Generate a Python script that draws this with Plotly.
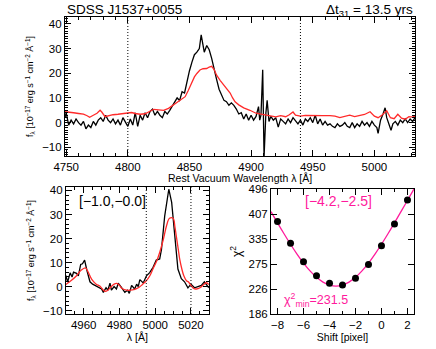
import plotly.graph_objects as go

# top panel: full H-beta region (rest wavelength, flux)
lam_black = [4749, 4750, 4752, 4754, 4756, 4758, 4760, 4762, 4764, 4766, 4768, 4770, 4772, 4774,
             4776, 4778, 4780, 4782, 4784, 4786, 4788, 4790, 4792, 4794, 4796, 4798, 4800, 4802,
             4804, 4806, 4808, 4810, 4812, 4814, 4816, 4818, 4820, 4822, 4824, 4826, 4828, 4830,
             4832, 4834, 4836, 4838, 4840, 4842, 4844, 4846, 4848, 4850, 4852, 4854, 4856, 4858,
             4859.5, 4861, 4862, 4864, 4866, 4868, 4870, 4872, 4874, 4876, 4878, 4880, 4882, 4884,
             4886, 4888, 4890, 4892, 4894, 4896, 4898, 4900, 4902, 4904, 4906, 4907, 4908, 4909.4,
             4910.5, 4912, 4913, 4914.5, 4916, 4918, 4920, 4922, 4924, 4926, 4928, 4930, 4932, 4934,
             4936, 4938, 4940, 4942, 4944, 4946, 4948, 4950, 4952, 4954, 4956, 4958, 4960, 4962,
             4964, 4966, 4968, 4970, 4972, 4974, 4976, 4978, 4980, 4982, 4984, 4986, 4988, 4990,
             4992, 4994, 4996, 4998, 5000, 5002, 5003, 5005, 5007, 5008.7, 5010, 5012, 5013.5, 5015,
             5017, 5019, 5021, 5023, 5025, 5027, 5029, 5031, 5033]
flux_black = [2.0, 4.0, -1.0, 1.0, -0.5, 1.5, 0.0, -1.0, 0.5, -2.5, -1.0, -2.0, 0.5, -1.0,
              1.0, 2.0, 0.5, 3.0, 1.0, 0.0, 1.5, -0.5, 1.0, -1.0, 2.0, 0.0, -1.5, 1.5,
              -1.0, 4.0, -1.5, 3.0, 1.0, 4.0, 2.0, 4.5, 5.5, 3.0, 4.5, 3.0, 2.0, 4.5,
              3.5, 5.0, 6.5, 8.5, 10.0, 9.0, 12.5, 12.0, 17.0, 21.0, 24.5, 27.5, 28.5, 30.0,
              35.5, 30.0, 28.5, 31.2, 29.5, 26.0, 21.0, 17.5, 13.5, 11.5, 9.0, 8.5, 7.0, 8.0,
              7.0, 5.5, 3.5, 4.0, 1.5, 3.5, 1.0, 3.0, 1.0, 2.5, 6.5, 1.0, 3.0, 21.4,
              -14.0, 4.0, 9.0, 0.5, 2.5, 1.0, 2.0, -1.8, 1.5, 0.5, -0.5, 1.5, 0.0, 2.0,
              0.5, -0.5, 1.0, -1.0, 1.5, 0.5, 2.0, 0.0, 3.0, -0.5, 1.5, -1.0, 0.5, -1.0,
              -0.5, -1.5, -2.0, -0.5, -1.5, -1.0, 0.0, -1.5, -2.0, 0.0, -2.0, -0.5, -1.5, 0.5,
              -1.0, 0.0, -1.5, 0.5, -1.0, -2.0, -4.3, 1.0, 3.5, 6.0, 2.0, -1.0, -3.1, -0.5,
              0.5, -1.0, 1.0, 0.0, 1.5, 0.0, 1.5, 0.5, 2.0]

lam_red = [4749, 4752, 4756, 4760, 4764, 4767, 4769, 4772, 4775, 4777.5, 4779, 4781.5, 4784, 4788,
           4792, 4796, 4800, 4803, 4806, 4810, 4814, 4818, 4821, 4825, 4829, 4833, 4837, 4841,
           4844, 4846.5, 4849, 4852, 4854, 4856, 4858.5, 4861, 4864, 4866, 4868, 4870, 4872, 4875,
           4877.5, 4880, 4883, 4885, 4887, 4890, 4894, 4899, 4904, 4908, 4912, 4916, 4920, 4924,
           4928, 4931, 4934, 4936, 4940, 4944, 4948, 4952, 4958, 4964, 4968, 4972, 4976, 4980,
           4984, 4988, 4992, 4996.5, 5000, 5003, 5006, 5010, 5013, 5016, 5019, 5022, 5025, 5028,
           5031, 5033]
flux_red = [4.4, 4.3, 4.0, 3.7, 3.4, 2.8, 2.2, 3.0, 3.8, 5.0, 4.2, 2.4, 2.8, 3.2,
            3.4, 3.6, 3.9, 4.1, 3.7, 3.4, 3.6, 4.6, 5.4, 5.2, 5.0, 5.8, 7.2, 8.3,
            9.5, 10.5, 13.0, 16.6, 18.5, 19.9, 21.3, 21.8, 21.9, 22.5, 22.8, 21.5, 19.2, 17.0,
            15.5, 13.7, 12.0, 10.0, 8.4, 7.2, 6.0, 5.0, 3.8, 3.4, 3.0, 2.8, 2.3, 2.8,
            2.4, 3.2, 4.3, 3.0, 2.6, 2.9, 2.8, 3.0, 2.8, 2.8, 2.6, 2.0, 2.6, 3.0,
            2.4, 2.8, 3.3, 4.4, 2.6, 2.0, 3.0, 4.8, 2.0, 1.6, 3.4, 1.8, 1.4, 2.4,
            2.2, 2.6]
top_windows = [4800, 4940]

# bottom left: [OIII] region
lam_o3_black = [4950, 4951, 4952.4, 4953.5, 4954.3, 4956, 4957, 4958.3, 4959.3, 4960.5, 4961.7,
                4962.5, 4963.5, 4965, 4966.3, 4967.5, 4969.1, 4970, 4971, 4972.5, 4973.5, 4974.7,
                4975.5, 4977, 4978.3, 4979.3, 4980.8, 4982, 4983, 4984.5, 4985.5, 4986.8, 4988.5,
                4989.6, 4990.5, 4991.4, 4992.3, 4993.3, 4995.1, 4996.9, 4998.8, 5000.6, 5002.5,
                5003.5, 5005.3, 5007.6, 5009.2, 5010.9, 5012.7, 5014.6, 5016.4, 5018.3, 5020,
                5022, 5024, 5025.8, 5027.5, 5030]
flux_o3_black = [4.6, 1.9, 5.7, 4.0, 6.0, 5.5, 4.5, 9.2, 9.5, 11.0, 7.0,
                 5.0, 2.0, 1.0, 0.5, 0.0, -0.5, -1.0, -2.4, -0.5, -1.5, 1.4,
                 -1.5, 0.0, -1.0, 1.4, 0.0, -1.5, -2.4, -1.5, -2.8, 0.5, -1.0,
                 1.0, 0.0, 2.9, 2.0, 1.5, 4.5, 5.8, 8.0, 11.0, 11.5,
                 15.5, 29.3, 40.5, 35.0, 20.0, 7.3, 3.3, 2.0, -0.5, 1.0,
                 -0.5, 0.0, 0.5, 2.0, -0.5]
lam_o3_red = [4950, 4953, 4956, 4958.5, 4961, 4962.5, 4964.5, 4967, 4969, 4971, 4972, 4973.5,
              4975, 4977, 4978.5, 4980, 4981.5, 4984, 4986, 4988, 4991, 4993, 4995, 4997, 4999,
              5001, 5002.5, 5004.5, 5006.3, 5008, 5010, 5011, 5011.8, 5013, 5013.7, 5015, 5016,
              5017.5, 5018.5, 5020, 5021.5, 5023, 5025, 5027, 5028.6, 5030]
flux_o3_red = [0.9, 2.5, 4.5, 6.8, 7.8, 6.0, 3.0, 1.0, 0.2, -1.5, -2.0, -1.5,
               -0.3, 1.0, 1.3, 0.5, -0.8, -1.5, -1.5, -1.3, -0.3, 1.0, 2.4, 4.5, 7.8,
               11.0, 14.2, 19.5, 25.2, 28.4, 28.4, 25.0, 21.0, 15.0, 11.4, 7.0, 4.5,
               2.4, 2.0, 0.5, -0.8, -1.0, -0.5, 0.8, 1.6, 0.8]
o3_windows = [4995, 5020]

# bottom right: chi^2 vs shift
shift = [-8, -7, -6, -5, -4, -3, -2, -1, 0, 1, 2]
chi2 = [384, 324, 280, 251, 236.6, 233.4, 246, 274, 318, 377, 455]
shift_fit = [-8.5, -8, -7.5, -7, -6.5, -6, -5.5, -5, -4.5, -4, -3.5, -3, -2.5, -2, -1.5,
             -1, -0.5, 0, 0.5, 1, 1.5, 2, 2.5]
chi2_fit = [415.3, 380.3, 349.1, 321.5, 297.7, 277.4, 260.9, 248.0, 238.9, 233.3, 231.5,
            233.3, 238.9, 248.0, 260.9, 277.4, 297.7, 321.5, 349.1, 380.3, 415.3, 453.8, 496.1]
chi2_ticks = [186, 226, 275, 335, 407, 496]

RED = "#ff2a2a"
PINK = "#ff1a9c"
FONT = "Liberation Sans"
DOT = "1px,2px"

fig = go.Figure()
fig.add_trace(go.Scatter(x=lam_black, y=flux_black, mode="lines",
                         line=dict(color="black", width=1.3), xaxis="x", yaxis="y"))
fig.add_trace(go.Scatter(x=lam_red, y=flux_red, mode="lines",
                         line=dict(color=RED, width=1.3), xaxis="x", yaxis="y"))
fig.add_trace(go.Scatter(x=lam_o3_black, y=flux_o3_black, mode="lines",
                         line=dict(color="black", width=1.3), xaxis="x2", yaxis="y2"))
fig.add_trace(go.Scatter(x=lam_o3_red, y=flux_o3_red, mode="lines", line_shape="spline",
                         line=dict(color=RED, width=1.3), xaxis="x2", yaxis="y2"))
fig.add_trace(go.Scatter(x=shift_fit, y=chi2_fit, mode="lines", line_shape="spline",
                         line=dict(color=PINK, width=1.3), xaxis="x3", yaxis="y3"))
fig.add_trace(go.Scatter(x=shift, y=chi2, mode="markers",
                         marker=dict(color="black", size=7), xaxis="x3", yaxis="y3"))

for w in top_windows:
    fig.add_shape(type="line", xref="x", yref="y domain", x0=w, x1=w, y0=0, y1=1,
                  line=dict(color="black", width=1, dash=DOT))
for w in o3_windows:
    fig.add_shape(type="line", xref="x2", yref="y2 domain", x0=w, x1=w, y0=0, y1=1,
                  line=dict(color="black", width=1, dash=DOT))

ax = dict(showline=True, linecolor="black", linewidth=1, mirror="allticks", ticks="inside",
          ticklen=6, tickcolor="black", showgrid=False, zeroline=False, automargin=False,
          tickfont=dict(size=11.5, color="black"))
ytitle = "f<sub>λ</sub> [10<sup>−17</sup> erg s<sup>−1</sup> cm<sup>−2</sup> Å<sup>−1</sup>]"

fig.update_layout(
    width=436, height=349, showlegend=False,
    margin=dict(l=0, r=0, t=0, b=0),
    paper_bgcolor="white", plot_bgcolor="white",
    font=dict(family=FONT, color="black", size=11),
    xaxis=dict(ax, domain=[0.149, 0.952], range=[4749, 5033], anchor="y",
               tickvals=[4750, 4800, 4850, 4900, 4950, 5000],
               minor=dict(dtick=10, tick0=4750, ticklen=3, ticks="inside", tickcolor="black")),
    yaxis=dict(ax, domain=[0.553, 0.951], range=[-13.5, 42.7], anchor="x",
               tickvals=[-10, 0, 10, 20, 30, 40],
               minor=dict(dtick=1, tick0=0, ticklen=3, ticks="inside", tickcolor="black"),
               title=dict(text=ytitle, font=dict(size=9), standoff=6)),
    xaxis2=dict(ax, domain=[0.151, 0.479], range=[4950, 5030], anchor="y2",
                tickvals=[4960, 4980, 5000, 5020],
                minor=dict(dtick=5, tick0=4950, ticklen=3, ticks="inside", tickcolor="black"),
                title=dict(text="λ [Å]", font=dict(size=10.5), standoff=1)),
    yaxis2=dict(ax, domain=[0.1003, 0.464], range=[-11.4, 41.4], anchor="x2",
                tickvals=[-10, 0, 10, 20, 30, 40],
                minor=dict(dtick=2, tick0=0, ticklen=3, ticks="inside", tickcolor="black"),
                title=dict(text=ytitle, font=dict(size=9), standoff=6)),
    xaxis3=dict(ax, domain=[0.6216, 0.9495], range=[-8.5, 2.5], anchor="y3",
                tickvals=[-8, -6, -4, -2, 0, 2],
                minor=dict(dtick=1, tick0=0, ticklen=3, ticks="inside", tickcolor="black"),
                title=dict(text="Shift [pixel]", font=dict(size=10.5), standoff=1)),
    yaxis3=dict(ax, domain=[0.1003, 0.4585], type="log", anchor="x3",
                range=[2.2695, 2.6955], tickvals=chi2_ticks,
                ticktext=[str(v) for v in chi2_ticks],
                title=dict(text="χ<sup>2</sup>", font=dict(size=12), standoff=4)),
)

# top panel x title, placed by hand so it clears the lower-right panel
fig.add_annotation(text="Rest Vacuum Wavelength λ [Å]", xref="x domain", yref="paper",
                   x=0.5, y=0.4905, xanchor="center", yanchor="middle", showarrow=False,
                   font=dict(size=10.5))
fig.add_annotation(text="SDSS J1537+0055", xref="paper", yref="paper", x=0.149, y=0.972,
                   xanchor="left", yanchor="middle", showarrow=False, font=dict(size=13.5))
fig.add_annotation(text="Δt<sub>31</sub> = 13.5 yrs", xref="paper", yref="paper", x=0.952,
                   y=0.97, xanchor="right", yanchor="middle", showarrow=False,
                   font=dict(size=13.5))
fig.add_annotation(text="[−1.0,−0.0]", xref="x2 domain", yref="y2 domain", x=0.08, y=0.97,
                   xanchor="left", yanchor="top", showarrow=False, font=dict(size=14))
fig.add_annotation(text="[−4.2,−2.5]", xref="x3 domain", yref="y3 domain", x=0.47, y=0.98,
                   xanchor="center", yanchor="top", showarrow=False,
                   font=dict(size=14, color=PINK))
fig.add_annotation(text="χ<sup>2</sup><sub>min</sub>=231.5", xref="x3 domain",
                   yref="y3 domain", x=0.08, y=0.02, xanchor="left", yanchor="bottom",
                   showarrow=False, font=dict(size=12.5, color=PINK))

# drop the page's default body margin so the figure sits at the window's corner
fig.write_html("out.html", config={"displayModeBar": False},
               post_script="document.body.style.margin='0';")
